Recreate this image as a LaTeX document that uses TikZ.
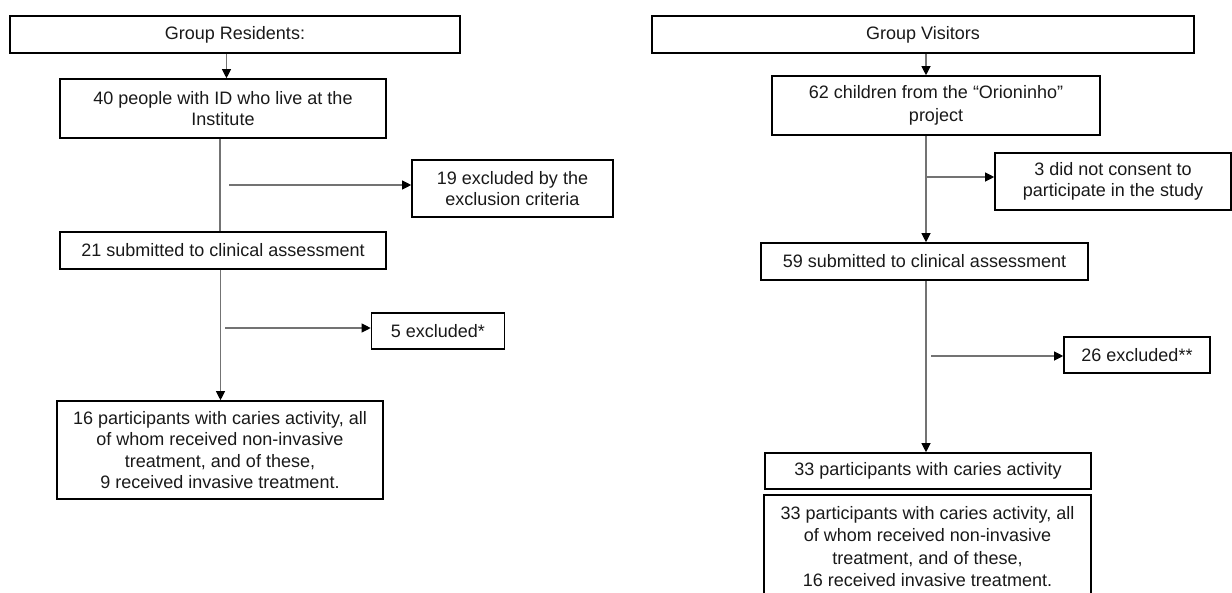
\documentclass[tikz,border=0pt]{standalone}
\usepackage{fontspec}
\setmainfont{Liberation Sans}
\usetikzlibrary{arrows.meta}
\tikzset{
  box/.style={draw=black, line width=1.6pt, align=center, inner sep=2pt,
    font=\fontsize{18}{21.5}\selectfont, text=black!90},
  conn/.style={draw=black!55, line width=1.1pt},
  arr/.style={conn, -{Triangle[length=9pt,width=9pt,color=black]}},
}
\begin{document}
\begin{tikzpicture}[x=1pt,y=-1pt]
\useasboundingbox (0,0) rectangle (1232,592);
% Left column
\node[box, minimum width=450pt, minimum height=37pt] (gr) at (235,34.5) {Group Residents:};
\node[box, minimum width=326pt, minimum height=59pt] (b40) at (223,108.5) {40 people with ID who live at the\\Institute};
\node[box, minimum width=201pt, minimum height=57pt] (ex19) at (512.5,188.5) {19 excluded by the\\exclusion criteria};
\node[box, minimum width=326pt, minimum height=37pt] (b21) at (223,250.5) {21 submitted to clinical assessment};
\node[box, minimum width=133pt, minimum height=36pt] (ex5) at (438,331) {5 excluded*};
\node[box, minimum width=326pt, minimum height=98pt] (b16) at (220,450) {16 participants with caries activity, all\\of whom received non-invasive\\treatment, and of these,\\9 received invasive treatment.};
% Right column
\node[box, minimum width=542pt, minimum height=37pt] (gv) at (923,34.5) {Group Visitors};
\node[box, minimum width=328pt, minimum height=59pt, font=\fontsize{18}{23}\selectfont] (b62) at (936,105.5) {62 children from the “Orioninho”\\project};
\node[box, minimum width=236pt, minimum height=57pt] (ex3) at (1113,181.5) {3 did not consent to\\participate in the study};
\node[box, minimum width=327pt, minimum height=37pt] (b59) at (924.5,261.5) {59 submitted to clinical assessment};
\node[box, minimum width=146pt, minimum height=36pt] (ex26) at (1137,355) {26 excluded**};
\node[box, minimum width=326pt, minimum height=36pt] (b33) at (928,471) {33 participants with caries activity};
\node[box, minimum width=327pt, minimum height=103pt, font=\fontsize{18}{22.3}\selectfont] (b33b) at (927.5,546.5) {33 participants with caries activity, all\\of whom received non-invasive\\treatment, and of these,\\16 received invasive treatment.};
% branch start coordinates
\coordinate (s19) at (229,185);
\coordinate (s5) at (225,328);
\coordinate (s3) at (927,177);
\coordinate (s26) at (931,356);
% Left connectors
\draw[arr] (gr.south -| 226.5,0) -- (b40.north -| 226.5,0);
\draw[conn] (b40.south -| 220,0) -- (b21.north -| 220,0);
\draw[arr] (s19) -- (s19 -| ex19.west);
\draw[arr] (b21.south -| 220.5,0) -- (b16.north -| 220.5,0);
\draw[arr] (s5) -- (s5 -| ex5.west);
% Right connectors
\draw[arr] (gv.south -| 926,0) -- (b62.north -| 926,0);
\draw[arr] (b62.south -| 926,0) -- (b59.north -| 926,0);
\draw[arr] (s3) -- (s3 -| ex3.west);
\draw[arr] (b59.south -| 926,0) -- (b33.north -| 926,0);
\draw[arr] (s26) -- (s26 -| ex26.west);
\end{tikzpicture}
\end{document}
